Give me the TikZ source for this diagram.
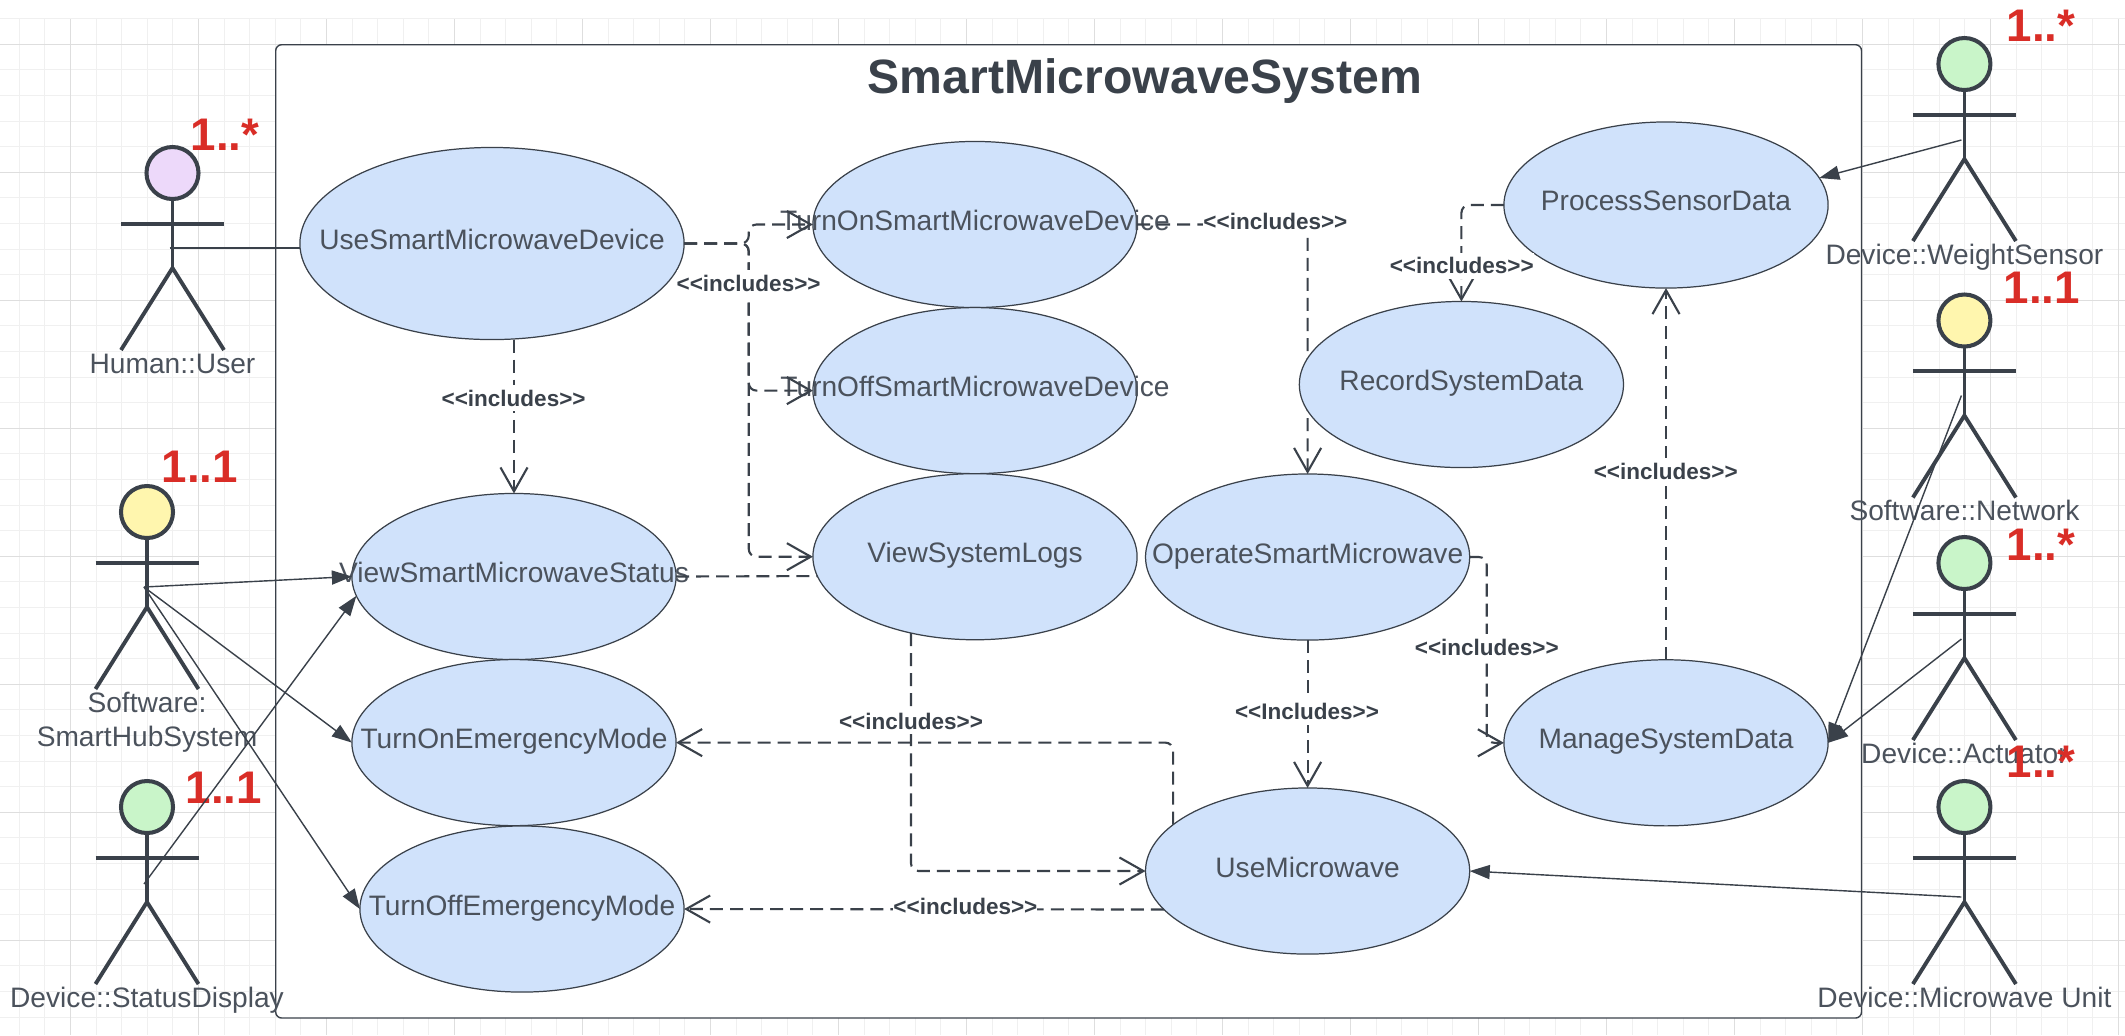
\documentclass[tikz,border=0pt]{standalone}
\usepackage{fontspec}
\setmainfont{Liberation Sans}
\usepackage{tikz}
\usetikzlibrary{positioning,shapes.geometric,arrows.meta}
\definecolor{inkdark}{HTML}{3A414A}
\definecolor{inktext}{HTML}{4B525C}
\definecolor{ucfill}{HTML}{D0E2FB}
\definecolor{actorpink}{HTML}{EDD9FA}
\definecolor{actoryellow}{HTML}{FFF6AE}
\definecolor{actorgreen}{HTML}{C9F5C9}
\definecolor{multred}{HTML}{D92D27}
\definecolor{gridminor}{HTML}{F0F0F0}
\definecolor{gridmajor}{HTML}{DEDEDE}
\newcommand{\uctext}[1]{\smash{\makebox[0pt]{\raisebox{-1.7pt}{#1}}}}
\newcommand{\incltext}[1]{<{}<#1>{}>}

\begin{document}
\begin{tikzpicture}[
				x=0.01cm, y=-0.01cm,
				usecase/.style={ellipse, draw=inkdark, fill=ucfill, line width=0.35pt, inner sep=0pt, outer sep=0pt, minimum width=3.24cm, minimum height=1.66cm, text=inktext, font=\fontsize{8}{9.6}\selectfont},
				actorhead/.style={circle, draw=inkdark, line width=1.15pt, inner sep=0pt, outer sep=0pt, minimum size=5.2mm},
				actorline/.style={draw=inkdark, line width=1.1pt},
				actorlabel/.style={anchor=base, align=center, text=inktext, font=\fontsize{8}{9.65}\selectfont},
				mult/.style={anchor=base west, inner sep=0pt, text=multred, font=\fontsize{13}{15}\selectfont\bfseries},
				incl/.style={draw=inkdark, line width=0.6pt, dash pattern=on 3.7pt off 2pt, rounded corners=2.2pt, -{Straight Barb[length=6.8pt,width=7.7pt]}},
				inclplain/.style={draw=inkdark, line width=0.6pt, dash pattern=on 3.7pt off 2pt},
				incllabel/.style={fill=white, inner sep=0pt, minimum height=7.4pt, text=inkdark, font=\fontsize{6.4}{7}\selectfont\bfseries},
				assoc/.style={draw=inkdark, line width=0.4pt, -{Triangle[length=5.7pt,width=4pt]}},
				assocplain/.style={draw=inkdark, line width=0.4pt}
			]
			\useasboundingbox (0,0) rectangle (2125,1035);
			\foreach \gx in {0,...,82} \draw[gridminor, line width=0.3pt] (19.3+25.6*\gx,19) -- (19.3+25.6*\gx,1035);
			\foreach \gy in {0,...,39} \draw[gridminor, line width=0.3pt] (0,18.7+25.6*\gy) -- (2125,18.7+25.6*\gy);
			\foreach \gx in {0,...,16} \draw[gridmajor, line width=0.3pt] (70.5+128*\gx,19) -- (70.5+128*\gx,1035);
			\foreach \gy in {0,...,7} \draw[gridmajor, line width=0.3pt] (0,44.3+128*\gy) -- (2125,44.3+128*\gy);
			\draw[draw=inkdark, fill=white, line width=0.4pt, rounded corners=1.7pt] (275.7,44.7) rectangle (1861.5,1018);
			\node[anchor=base, inner sep=0pt, text=inkdark, font=\fontsize{13.7}{15}\selectfont\bfseries] (systemtitle) at (1145,93.5) {SmartMicrowaveSystem};
			\node[usecase, minimum width=3.84cm, minimum height=1.92cm] (usesmart) at (492,243.5) {\uctext{UseSmartMicrowaveDevice}};
			\node[usecase] (turnon) at (975,224.5) {\uctext{TurnOnSmartMicrowaveDevice}};
			\node[usecase] (turnoff) [below=0mm of turnon] {\uctext{TurnOffSmartMicrowaveDevice}};
			\node[usecase] (logs) [below=0mm of turnoff] {\uctext{ViewSystemLogs}};
			\node[usecase] (viewstatus) at (514,576.5) {\uctext{ViewSmartMicrowaveStatus}};
			\node[usecase] (turnonem) [below=0mm of viewstatus] {\uctext{TurnOnEmergencyMode}};
			\node[usecase] (turnoffem) at (522,909) {\uctext{TurnOffEmergencyMode}};
			\node[usecase] (operate) at (1307.6,557) {\uctext{OperateSmartMicrowave}};
			\node[usecase] (usemicro) at (1307.6,871) {\uctext{UseMicrowave}};
			\node[usecase] (process) at (1666,205) {\uctext{ProcessSensorData}};
			\node[usecase] (manage) at (1666,742.8) {\uctext{ManageSystemData}};
			\draw[incl] (turnon.east) -| (operate.north);
			\node[usecase] (record) at (1461.4,384.5) {\uctext{RecordSystemData}};
			\foreach \name/\cx/\cy/\col/\hip/\who/\ly/\mx/\my/\many in {
				user/172.5/173/actorpink/75/{Human::User}/200/190/150/1..*,
				hub/147/512/actoryellow/75/{Software:\\SmartHubSystem}/234/161/482.7/1..1,
				display/147/807/actorgreen/77/{Device::StatusDisplay}/200/185/803/1..1,
				weight/1964.4/64/actorgreen/76/{Device::WeightSensor}/200/2006/41/1..*,
				network/1964.4/320.5/actoryellow/75/{Software::Network}/200/2003/303/1..1,
				actuator/1964.4/563/actorgreen/76/{Device::Actuator}/200/2006/560/1..*,
				unit/1964.4/807/actorgreen/90/{Device::Microwave Unit}/200/2006/777.7/1..*} {
				\node[actorhead, fill=\col] (\name) at (\cx,\cy) {};
				\draw[actorline] (\name.south) -- (\cx,\cy+95);
				\draw[actorline] (\cx-51.5,\cy+50.7) -- (\cx+51.5,\cy+50.7);
				\draw[actorline] (\cx-51.5,\cy+177) -- (\cx,\cy+95) -- (\cx+51.5,\cy+177);
				\coordinate (\name-hip) at (\cx-3,\cy+\hip);
				\node[actorlabel] (\name-label) at (\cx,\cy+\ly) {\who};
				\node[mult] (\name-mult) at (\mx,\my) {\many};
			}
			\draw[incl] (usesmart.east) -- ++(64.6,0) |- (turnon.west);
			\draw[incl] (usesmart.east) -- ++(64.6,0) |- (turnoff.west);
			\draw[incl] (usesmart.east) -- ++(64.6,0) |- (logs.west);
			\draw[incl] (usesmart.south -| viewstatus.north) -- (viewstatus.north);
			\draw[inclplain] (viewstatus.east) -- (logs.187);
			\draw[incl] (logs.230) |- (usemicro.west);
			\draw[incl] (usemicro.161) |- (turnonem.east);
			\draw[incl] (usemicro.195) -- (turnoffem.east);
			\draw[incl] (process.west) -| (record.north);
			\draw[incl] (manage.north) -- (process.south);
			\draw[incl] (operate.east) -- ++(17,0) |- (manage.west);
			\draw[incl] (operate.south) -- (usemicro.north);
			\draw[assocplain] (user-hip) -- (usesmart.west |- user-hip);
			\draw[assoc] (hub-hip) -- (viewstatus.west);
			\draw[assoc] (hub-hip) -- (turnonem.west);
			\draw[assoc] (hub-hip) -- (turnoffem.west);
			\draw[assoc] (display-hip) -- (viewstatus.187);
			\draw[assoc] (weight-hip) -- (process.10);
			\draw[assoc] (network-hip) -- (manage.east);
			\draw[assoc] (actuator-hip) -- (manage.east);
			\draw[assoc] (unit-hip) -- (usemicro.east);
			\node[incllabel] (inclusesmart) at (748.6,283.3) {\incltext{includes}};
			\node[incllabel] (inclstatus) at (513.6,398.3) {\incltext{includes}};
			\node[incllabel] (inclturnon) at (1275.4,221.7) {\incltext{includes}};
			\node[incllabel] (inclrecord) at (1461.7,265.7) {\incltext{includes}};
			\node[incllabel] (inclprocess) at (1665.7,471) {\incltext{includes}};
			\node[incllabel] (inclmanage) at (1486.8,647.3) {\incltext{includes}};
			\node[incllabel] (inclmicro) at (1307,711.7) {\incltext{Includes}};
			\node[incllabel] (incllogs) at (911,721) {\incltext{includes}};
			\node[incllabel] (inclturnoff) at (965.4,906.7) {\incltext{includes}};
		\end{tikzpicture}
\end{document}
